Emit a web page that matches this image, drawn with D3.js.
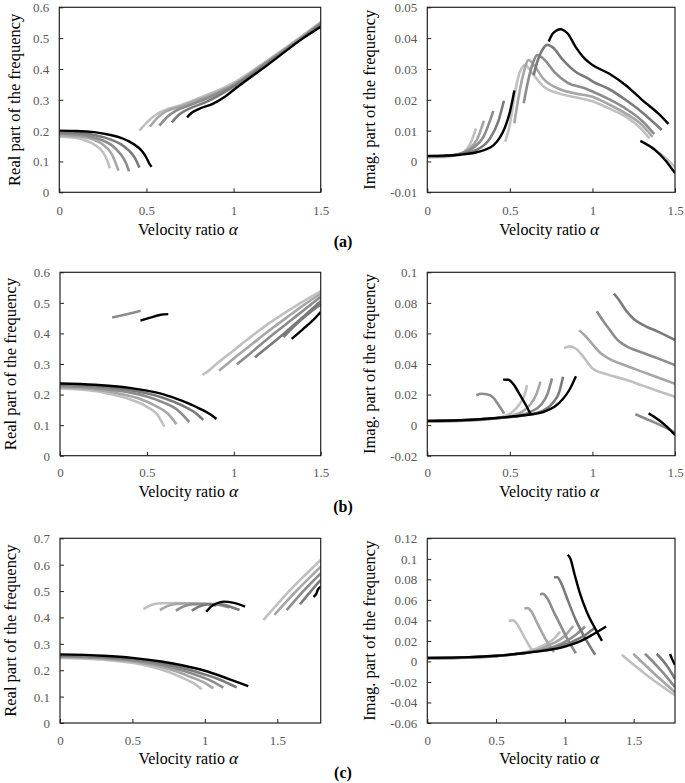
<!DOCTYPE html>
<html><head><meta charset="utf-8">
<script src="https://cdn.jsdelivr.net/npm/d3@7"></script>
<style>
body{margin:0;background:#fff;}
svg{display:block;font-family:"Liberation Serif","Times New Roman",serif;}
</style></head>
<body><svg id="c" width="685" height="783"></svg>
<script>
// ---------- series colours ----------
const seriesColors = ["#c0c0c0", "#a6a6a6", "#8c8c8c", "#7a7a7a", "#000000"];
const xTicks15 = [0, 0.5, 1, 1.5];
const xTicks18 = [0, 0.5, 1, 1.5];
const yTicksARe = [0, 0.1, 0.2, 0.3, 0.4, 0.5, 0.6];
const yTicksAIm = [-0.01, 0, 0.01, 0.02, 0.03, 0.04, 0.05];
const yTicksBRe = [0, 0.1, 0.2, 0.3, 0.4, 0.5, 0.6];
const yTicksBIm = [-0.02, 0, 0.02, 0.04, 0.06, 0.08, 0.1];
const yTicksCRe = [0, 0.1, 0.2, 0.3, 0.4, 0.5, 0.6, 0.7];
const yTicksCIm = [-0.06, -0.04, -0.02, 0, 0.02, 0.04, 0.06, 0.08, 0.1, 0.12];

// ---------- (a) real part ----------
const aRe_low_s1 = [[0,0.18],[0.1,0.176],[0.15,0.168],[0.2,0.155],[0.25,0.13],[0.27,0.11],[0.29,0.078]];
const aRe_low_s2 = [[0,0.185],[0.1,0.182],[0.2,0.17],[0.25,0.155],[0.3,0.125],[0.32,0.1],[0.34,0.07]];
const aRe_low_s3 = [[0,0.19],[0.1,0.188],[0.2,0.178],[0.25,0.168],[0.3,0.153],[0.35,0.125],[0.38,0.098],[0.40,0.068]];
const aRe_low_s4 = [[0,0.195],[0.1,0.193],[0.2,0.186],[0.3,0.17],[0.35,0.157],[0.4,0.135],[0.43,0.115],[0.46,0.08]];
const aRe_low_s5 = [[0,0.2],[0.1,0.199],[0.2,0.195],[0.3,0.185],[0.35,0.177],[0.4,0.165],[0.45,0.147],[0.48,0.13],[0.5,0.112],[0.52,0.09],[0.53,0.083]];
const aRe_up_s1 = [[0.46,0.2],[0.5,0.225],[0.55,0.25],[0.6,0.265],[0.7,0.283],[0.8,0.305],[1.0,0.355],[1.2,0.43],[1.4,0.51],[1.5,0.552]];
const aRe_up_s2 = [[0.52,0.213],[0.56,0.24],[0.6,0.258],[0.7,0.279],[0.8,0.3],[1.0,0.35],[1.2,0.427],[1.4,0.507],[1.5,0.549]];
const aRe_up_s3 = [[0.575,0.216],[0.62,0.245],[0.67,0.265],[0.75,0.283],[0.85,0.305],[1.0,0.347],[1.2,0.424],[1.4,0.505],[1.5,0.547]];
const aRe_up_s4 = [[0.646,0.227],[0.69,0.253],[0.75,0.272],[0.85,0.295],[1.0,0.343],[1.2,0.42],[1.4,0.502],[1.5,0.545]];
const aRe_up_s5 = [[0.733,0.243],[0.76,0.258],[0.8,0.27],[0.88,0.287],[0.95,0.31],[1.0,0.332],[1.2,0.415],[1.4,0.5],[1.5,0.537]];

// ---------- (a) imaginary part ----------
const aIm_low_s1 = [[0,0.0014],[0.1,0.0015],[0.2,0.0025],[0.24,0.004],[0.27,0.007],[0.295,0.0107]];
const aIm_low_s2 = [[0,0.0015],[0.1,0.0016],[0.2,0.0025],[0.25,0.004],[0.3,0.007],[0.343,0.0132]];
const aIm_low_s3 = [[0,0.0016],[0.1,0.0017],[0.2,0.0025],[0.28,0.0045],[0.34,0.008],[0.4,0.0164]];
const aIm_low_s4 = [[0,0.0017],[0.1,0.0018],[0.2,0.0024],[0.3,0.0038],[0.38,0.0075],[0.43,0.013],[0.464,0.0197]];
const aIm_low_s5 = [[0,0.0018],[0.1,0.0019],[0.2,0.0022],[0.3,0.003],[0.35,0.0038],[0.4,0.0052],[0.44,0.0078],[0.47,0.011],[0.5,0.016],[0.527,0.023]];
const aIm_pk_s1 = [[0.472,0.0064],[0.5,0.012],[0.53,0.022],[0.56,0.029],[0.594,0.0313],[0.63,0.029],[0.7,0.0245],[0.8,0.022],[0.9,0.0208],[1.0,0.0195],[1.1,0.0172],[1.2,0.0146],[1.3,0.0103],[1.345,0.0075]];
const aIm_pk_s2 = [[0.527,0.0124],[0.55,0.02],[0.58,0.028],[0.614,0.0329],[0.65,0.031],[0.7,0.027],[0.8,0.0235],[0.9,0.022],[1.0,0.021],[1.1,0.0185],[1.2,0.0156],[1.3,0.0118],[1.364,0.008]];
const aIm_pk_s3 = [[0.584,0.0189],[0.61,0.026],[0.64,0.032],[0.665,0.0345],[0.7,0.0335],[0.77,0.029],[0.85,0.0255],[0.95,0.0238],[1.0,0.0227],[1.1,0.0202],[1.2,0.0172],[1.3,0.0132],[1.374,0.0089]];
const aIm_pk_s4 = [[0.644,0.028],[0.67,0.033],[0.7,0.0365],[0.725,0.0378],[0.76,0.037],[0.82,0.033],[0.9,0.029],[0.97,0.027],[1.0,0.026],[1.1,0.0235],[1.2,0.02],[1.3,0.016],[1.42,0.0102]];
const aIm_pk_s5 = [[0.735,0.0389],[0.76,0.0415],[0.806,0.0429],[0.85,0.0415],[0.9,0.037],[0.95,0.0335],[1.0,0.0313],[1.1,0.0285],[1.2,0.0248],[1.3,0.02],[1.4,0.0155],[1.46,0.0122]];
const aIm_end_s1 = [[1.36,0.0047],[1.43,0.0017],[1.5,-0.0018]];
const aIm_end_s5 = [[1.29,0.0067],[1.38,0.0037],[1.44,0.0005],[1.5,-0.0038]];

// ---------- (b) real part ----------
const bRe_low_s1 = [[0,0.22],[0.2,0.212],[0.3,0.2],[0.4,0.185],[0.5,0.16],[0.56,0.135],[0.6,0.095]];
const bRe_low_s2 = [[0,0.224],[0.2,0.217],[0.35,0.202],[0.45,0.188],[0.55,0.163],[0.62,0.138],[0.67,0.103]];
const bRe_low_s3 = [[0,0.228],[0.2,0.222],[0.4,0.207],[0.5,0.194],[0.6,0.173],[0.68,0.148],[0.744,0.11]];
const bRe_low_s4 = [[0,0.232],[0.2,0.227],[0.4,0.215],[0.5,0.204],[0.6,0.188],[0.7,0.165],[0.78,0.14],[0.825,0.117]];
const bRe_low_s5 = [[0,0.236],[0.2,0.232],[0.4,0.222],[0.5,0.213],[0.6,0.2],[0.7,0.18],[0.8,0.155],[0.87,0.133],[0.9,0.12]];
const bRe_mid_s3 = [[0.3,0.452],[0.38,0.462],[0.464,0.474]];
const bRe_mid_s5 = [[0.463,0.442],[0.52,0.452],[0.58,0.461],[0.623,0.463]];
const bRe_up_s1 = [[0.82,0.264],[0.86,0.28],[0.9,0.3],[1.0,0.345],[1.1,0.39],[1.2,0.432],[1.3,0.47],[1.4,0.505],[1.5,0.538]];
const bRe_up_s2 = [[0.915,0.278],[1.0,0.318],[1.1,0.363],[1.2,0.408],[1.3,0.45],[1.4,0.492],[1.5,0.53]];
const bRe_up_s3 = [[1.017,0.299],[1.1,0.337],[1.2,0.385],[1.3,0.43],[1.4,0.475],[1.5,0.52]];
const bRe_up_s4 = [[1.122,0.322],[1.2,0.358],[1.3,0.405],[1.4,0.455],[1.5,0.505]];
const bRe_up_s4b = [[1.285,0.388],[1.35,0.425],[1.42,0.46],[1.5,0.495]];
const bRe_up_s5 = [[1.333,0.382],[1.4,0.415],[1.45,0.44],[1.5,0.47]];

// ---------- (b) imaginary part ----------
const bIm_low_s1 = [[0,0.0024],[0.2,0.0028],[0.4,0.0042],[0.47,0.006],[0.52,0.009],[0.56,0.014],[0.59,0.02],[0.604,0.0262]];
const bIm_low_s2 = [[0,0.0025],[0.2,0.0029],[0.4,0.0043],[0.5,0.0058],[0.57,0.0085],[0.62,0.013],[0.66,0.02],[0.685,0.0284]];
const bIm_low_s3 = [[0,0.0026],[0.2,0.003],[0.4,0.0044],[0.55,0.0062],[0.63,0.009],[0.69,0.0135],[0.73,0.021],[0.755,0.0306]];
const bIm_low_s4 = [[0,0.0027],[0.2,0.0031],[0.4,0.0045],[0.6,0.0066],[0.7,0.0095],[0.76,0.0145],[0.8,0.022],[0.822,0.0317]];
const bIm_low_s5 = [[0,0.0028],[0.2,0.0032],[0.4,0.0045],[0.5,0.0055],[0.6,0.0066],[0.7,0.0085],[0.77,0.012],[0.82,0.017],[0.86,0.023],[0.9,0.032]];
const bIm_pk_s3 = [[0.297,0.0196],[0.33,0.0205],[0.36,0.0202],[0.4,0.018],[0.43,0.0135],[0.466,0.0075]];
const bIm_pk_s5 = [[0.459,0.0298],[0.49,0.0297],[0.52,0.027],[0.56,0.02],[0.6,0.0125],[0.624,0.0075]];
const bIm_up_s1 = [[0.828,0.0505],[0.864,0.0515],[0.9,0.05],[0.95,0.044],[1.0,0.037],[1.05,0.0345],[1.1,0.0328],[1.2,0.0298],[1.3,0.026],[1.4,0.0222],[1.5,0.0186]];
const bIm_up_s2 = [[0.92,0.062],[0.96,0.058],[1.0,0.053],[1.05,0.047],[1.1,0.0435],[1.2,0.039],[1.3,0.035],[1.4,0.031],[1.5,0.027]];
const bIm_up_s3 = [[1.026,0.0745],[1.06,0.069],[1.1,0.063],[1.15,0.056],[1.2,0.052],[1.3,0.0475],[1.4,0.0435],[1.5,0.0393]];
const bIm_up_s4 = [[1.13,0.086],[1.16,0.082],[1.2,0.0755],[1.25,0.0695],[1.3,0.066],[1.4,0.061],[1.5,0.0557]];
const bIm_end_s3 = [[1.26,0.0072],[1.35,0.003],[1.45,-0.002],[1.5,-0.005]];
const bIm_end_s5 = [[1.34,0.0077],[1.4,0.0035],[1.45,-0.001],[1.5,-0.0065]];

// ---------- (c) real part ----------
const cRe_low_s1 = [[0,0.247],[0.3,0.24],[0.5,0.228],[0.65,0.21],[0.75,0.193],[0.85,0.17],[0.93,0.148],[0.978,0.128]];
const cRe_low_s2 = [[0,0.25],[0.3,0.244],[0.5,0.233],[0.7,0.212],[0.8,0.196],[0.9,0.175],[1.0,0.152],[1.059,0.131]];
const cRe_low_s3 = [[0,0.253],[0.3,0.247],[0.5,0.238],[0.7,0.22],[0.85,0.198],[0.95,0.18],[1.05,0.158],[1.128,0.134]];
const cRe_low_s4 = [[0,0.256],[0.3,0.25],[0.5,0.242],[0.7,0.227],[0.85,0.208],[1.0,0.184],[1.1,0.165],[1.22,0.135]];
const cRe_low_s5 = [[0,0.26],[0.3,0.255],[0.5,0.247],[0.7,0.233],[0.85,0.218],[1.0,0.198],[1.1,0.18],[1.2,0.16],[1.3,0.14]];
const cRe_mid_s1 = [[0.576,0.432],[0.63,0.447],[0.7,0.454],[0.8,0.455],[0.9,0.452],[0.98,0.447]];
const cRe_mid_s2 = [[0.69,0.428],[0.74,0.443],[0.8,0.451],[0.9,0.454],[1.0,0.451],[1.08,0.444]];
const cRe_mid_s3 = [[0.8,0.426],[0.85,0.441],[0.92,0.45],[1.0,0.452],[1.1,0.447],[1.17,0.438]];
const cRe_mid_s4 = [[0.91,0.426],[0.96,0.441],[1.02,0.45],[1.1,0.451],[1.18,0.44],[1.24,0.428]];
const cRe_mid_s5 = [[1.01,0.422],[1.04,0.44],[1.08,0.453],[1.13,0.46],[1.2,0.455],[1.278,0.441]];
const cRe_up_s1 = [[1.404,0.39],[1.6,0.51],[1.8,0.618]];
const cRe_up_s2 = [[1.48,0.41],[1.64,0.505],[1.8,0.592]];
const cRe_up_s3 = [[1.565,0.428],[1.68,0.5],[1.8,0.567]];
const cRe_up_s4 = [[1.657,0.45],[1.73,0.498],[1.8,0.542]];
const cRe_up_s5 = [[1.75,0.478],[1.77,0.49],[1.78,0.505],[1.8,0.516]];

// ---------- (c) imaginary part ----------
const cIm_low_s1 = [[0,0.003],[0.3,0.0037],[0.5,0.005],[0.65,0.0075],[0.75,0.0105],[0.85,0.016],[0.92,0.022],[0.964,0.029]];
const cIm_low_s2 = [[0,0.0031],[0.3,0.0038],[0.5,0.0052],[0.7,0.0082],[0.82,0.012],[0.92,0.018],[1.0,0.025],[1.06,0.0345]];
const cIm_low_s3 = [[0,0.0032],[0.3,0.0039],[0.5,0.0053],[0.7,0.0082],[0.88,0.0125],[1.0,0.019],[1.08,0.026],[1.146,0.034]];
const cIm_low_s4 = [[0,0.0033],[0.3,0.004],[0.5,0.0054],[0.7,0.0082],[0.9,0.0125],[1.05,0.019],[1.15,0.026],[1.22,0.033]];
const cIm_low_s5 = [[0,0.0035],[0.3,0.0042],[0.5,0.0055],[0.7,0.008],[0.85,0.0105],[1.0,0.0145],[1.1,0.019],[1.2,0.026],[1.3,0.034]];
const cIm_pk_s1 = [[0.59,0.0395],[0.62,0.04],[0.65,0.037],[0.68,0.03],[0.72,0.02],[0.77,0.009]];
const cIm_pk_s2 = [[0.705,0.0515],[0.73,0.052],[0.76,0.048],[0.8,0.037],[0.85,0.024],[0.92,0.009]];
const cIm_pk_s3 = [[0.82,0.065],[0.84,0.066],[0.87,0.062],[0.92,0.048],[0.98,0.032],[1.03,0.019],[1.08,0.008]];
const cIm_pk_s4 = [[0.921,0.082],[0.945,0.082],[0.97,0.077],[1.02,0.06],[1.08,0.04],[1.15,0.022],[1.22,0.0065]];
const cIm_pk_s5 = [[1.02,0.104],[1.04,0.1],[1.07,0.085],[1.11,0.066],[1.16,0.048],[1.22,0.032],[1.27,0.02]];
const cIm_end_s1 = [[1.413,0.0065],[1.6,-0.014],[1.8,-0.033]];
const cIm_end_s2 = [[1.497,0.0075],[1.65,-0.012],[1.8,-0.03]];
const cIm_end_s3 = [[1.582,0.0075],[1.7,-0.009],[1.8,-0.025]];
const cIm_end_s4 = [[1.667,0.0075],[1.74,-0.004],[1.8,-0.017]];
const cIm_end_s5 = [[1.764,0.0072],[1.78,0.002],[1.8,-0.0035]];

const yTitleRe = "Real part of the frequency";
const yTitleIm = "Imag. part of the frequency";
const rowLabels = ["(a)", "(b)", "(c)"];

// ---------- panel setup ----------
const panels = [
  {x0:59.3,x1:320.7,y0:7.3,y1:192.3,xd:[0,1.5],yd:[0,0.6],xt:xTicks15,yt:yTicksARe,title:yTitleRe,tx:15,xtb:215.5,ttb:234.5,
   segs:[[aRe_low_s1,0],[aRe_low_s2,1],[aRe_low_s3,2],[aRe_low_s4,3],[aRe_up_s1,0],[aRe_up_s2,1],[aRe_up_s3,2],[aRe_up_s4,3],[aRe_low_s5,4],[aRe_up_s5,4]]},
  {x0:427.3,x1:675,y0:7.3,y1:192.3,xd:[0,1.5],yd:[-0.01,0.05],xt:xTicks15,yt:yTicksAIm,title:yTitleIm,tx:370,xtb:215.5,ttb:234.5,
   segs:[[aIm_low_s1,0],[aIm_pk_s1,0],[aIm_end_s1,0],[aIm_low_s2,1],[aIm_pk_s2,1],[aIm_low_s3,2],[aIm_pk_s3,2],[aIm_low_s4,3],[aIm_pk_s4,3],[aIm_low_s5,4],[aIm_pk_s5,4],[aIm_end_s5,4]]},
  {x0:60,x1:320.7,y0:272.3,y1:455.7,xd:[0,1.5],yd:[0,0.6],xt:xTicks15,yt:yTicksBRe,title:yTitleRe,tx:11,xtb:477.5,ttb:496.5,
   segs:[[bRe_low_s1,0],[bRe_up_s1,0],[bRe_low_s2,1],[bRe_up_s2,1],[bRe_low_s3,2],[bRe_up_s3,2],[bRe_mid_s3,2],[bRe_low_s4,3],[bRe_up_s4,3],[bRe_up_s4b,3],[bRe_low_s5,4],[bRe_mid_s5,4],[bRe_up_s5,4]]},
  {x0:427.3,x1:675,y0:272.3,y1:455.7,xd:[0,1.5],yd:[-0.02,0.1],xt:xTicks15,yt:yTicksBIm,title:yTitleIm,tx:370,xtb:477.5,ttb:496.5,
   segs:[[bIm_low_s1,0],[bIm_up_s1,0],[bIm_low_s2,1],[bIm_up_s2,1],[bIm_low_s3,2],[bIm_up_s3,2],[bIm_pk_s3,2],[bIm_end_s3,2],[bIm_low_s4,3],[bIm_up_s4,3],[bIm_low_s5,4],[bIm_pk_s5,4],[bIm_end_s5,4]]},
  {x0:60,x1:320.7,y0:538.3,y1:723,xd:[0,1.8],yd:[0,0.7],xt:xTicks18,yt:yTicksCRe,title:yTitleRe,tx:11,xtb:745,ttb:764,
   segs:[[cRe_low_s1,0],[cRe_mid_s1,0],[cRe_up_s1,0],[cRe_low_s2,1],[cRe_mid_s2,1],[cRe_up_s2,1],[cRe_low_s3,2],[cRe_mid_s3,2],[cRe_up_s3,2],[cRe_low_s4,3],[cRe_mid_s4,3],[cRe_up_s4,3],[cRe_low_s5,4],[cRe_mid_s5,4],[cRe_up_s5,4]]},
  {x0:427.3,x1:675,y0:538.3,y1:723,xd:[0,1.8],yd:[-0.06,0.12],xt:xTicks18,yt:yTicksCIm,title:yTitleIm,tx:370,xtb:745,ttb:764,
   segs:[[cIm_low_s1,0],[cIm_pk_s1,0],[cIm_end_s1,0],[cIm_low_s2,1],[cIm_pk_s2,1],[cIm_end_s2,1],[cIm_low_s3,2],[cIm_pk_s3,2],[cIm_end_s3,2],[cIm_low_s4,3],[cIm_pk_s4,3],[cIm_end_s4,3],[cIm_low_s5,4],[cIm_pk_s5,4],[cIm_end_s5,4]]}
];
const rowLabelPos = [[343,247],[343,512],[343,778]];

const svg = d3.select("#c");
const fmt = v => String(+v.toFixed(3));

panels.forEach((p, i) => {
  const x = d3.scaleLinear().domain(p.xd).range([p.x0, p.x1]);
  const y = d3.scaleLinear().domain(p.yd).range([p.y1, p.y0]);
  const g = svg.append("g");
  const clipId = "clip" + i;
  svg.append("clipPath").attr("id", clipId).append("rect")
    .attr("x", p.x0).attr("y", p.y0).attr("width", p.x1 - p.x0).attr("height", p.y1 - p.y0);

  // curves
  const line = d3.line().x(d => x(d[0])).y(d => y(d[1])).curve(d3.curveMonotoneX);
  const cg = g.append("g").attr("clip-path", `url(#${clipId})`);
  p.segs.slice().sort((a, b) => a[1] - b[1]).forEach(([data, s]) => {
    cg.append("path").attr("d", line(data)).attr("fill", "none")
      .attr("stroke", seriesColors[s]).attr("stroke-width", s === 4 ? 2.4 : 2.6)
      .attr("stroke-linecap", "butt");
  });

  // frame
  g.append("rect").attr("x", p.x0).attr("y", p.y0).attr("width", p.x1 - p.x0).attr("height", p.y1 - p.y0)
    .attr("fill", "none").attr("stroke", "#222").attr("stroke-width", 1.2);

  // x axis (inward ticks)
  const xa = g.append("g").attr("transform", `translate(0,${p.y1})`)
    .call(d3.axisBottom(x).tickValues(p.xt).tickSize(-4).tickFormat(fmt));
  xa.select(".domain").remove();
  xa.selectAll(".tick line").attr("stroke", "#222");
  xa.selectAll(".tick text").attr("y", p.xtb - p.y1).attr("dy", 0)
    .attr("font-size", 13).attr("fill", "#595959").attr("font-family", "Liberation Serif");

  // y axis (inward ticks)
  const ya = g.append("g").attr("transform", `translate(${p.x0},0)`)
    .call(d3.axisLeft(y).tickValues(p.yt).tickSize(-4).tickFormat(fmt));
  ya.select(".domain").remove();
  ya.selectAll(".tick line").attr("stroke", "#222");
  ya.selectAll(".tick text").attr("x", -10).attr("dy", "0.34em")
    .attr("font-size", 13).attr("fill", "#595959").attr("font-family", "Liberation Serif");

  // y title
  g.append("text").attr("transform", `translate(${p.tx + 5},${(p.y0 + p.y1) / 2}) rotate(-90)`)
    .attr("text-anchor", "middle").attr("font-size", 16.5).attr("fill", "#000").text(p.title);

  // x title
  const t = g.append("text").attr("x", (p.x0 + p.x1) / 2 - 2).attr("y", p.ttb)
    .attr("text-anchor", "middle").attr("font-size", 16).attr("fill", "#000");
  t.append("tspan").text("Velocity ratio  ");
  t.append("tspan").attr("font-style", "italic").attr("font-size", 17.5).text("α");
});

rowLabels.forEach((lab, i) => {
  svg.append("text").attr("x", rowLabelPos[i][0]).attr("y", rowLabelPos[i][1])
    .attr("text-anchor", "middle").attr("font-size", 16).attr("font-weight", "bold").attr("fill", "#000").text(lab);
});
</script></body></html>
